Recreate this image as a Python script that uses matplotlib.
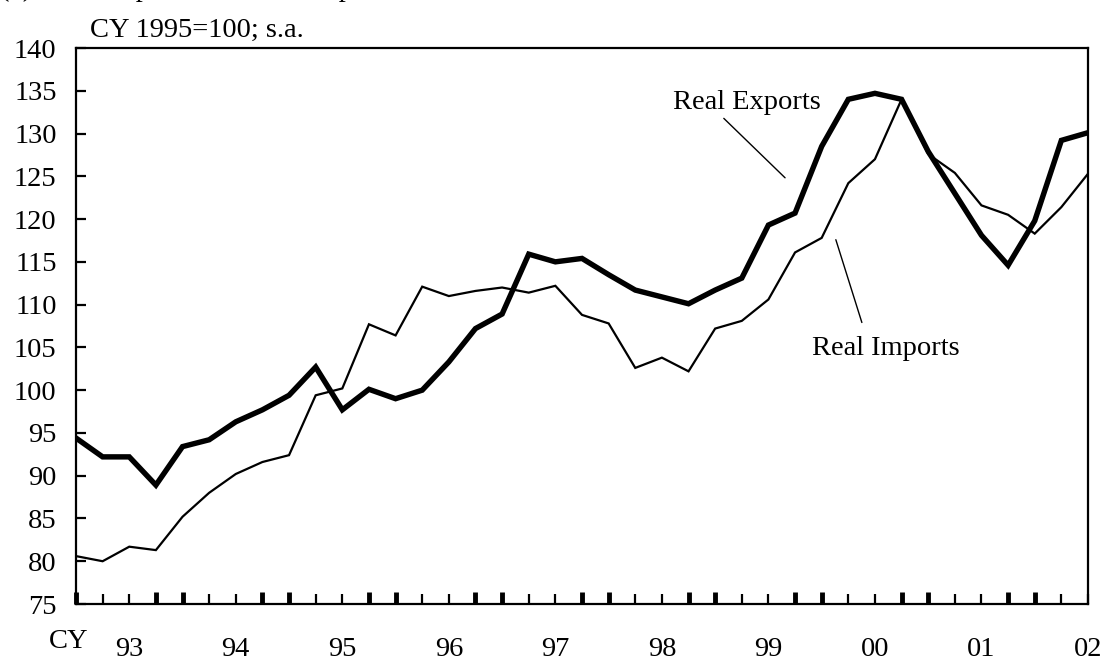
import matplotlib
matplotlib.use("Agg")
import matplotlib.pyplot as plt
import matplotlib.transforms as mtransforms

plt.rcParams['font.family'] = ['Liberation Serif', 'DejaVu Serif']

# Quarterly data, CY1993 Q1 .. CY2002 Q3 (index 0..38)
real_exports = [94.4, 92.2, 92.2, 88.9, 93.4, 94.2, 96.3, 97.7, 99.4, 102.7,
                97.7, 100.1, 99.0, 100.0, 103.3, 107.2, 108.9, 115.9, 115.0, 115.4,
                113.5, 111.7, 110.9, 110.1, 111.7, 113.1, 119.3, 120.7, 128.5, 134.0,
                134.7, 134.0, 127.9, 123.0, 118.1, 114.6, 119.8, 129.2, 130.1]
real_imports = [80.6, 80.0, 81.7, 81.3, 85.2, 88.0, 90.2, 91.6, 92.4, 99.4,
                100.2, 107.7, 106.4, 112.1, 111.0, 111.6, 112.0, 111.4, 112.2, 108.8,
                107.8, 102.6, 103.8, 102.2, 107.2, 108.1, 110.6, 116.1, 117.8, 124.2,
                127.0, 134.0, 127.6, 125.4, 121.6, 120.5, 118.3, 121.4, 125.3]
year_labels = ['93', '94', '95', '96', '97', '98', '99', '00', '01', '02']
y_ticks = list(range(75, 141, 5))

quarters = list(range(len(real_exports)))

fig = plt.figure(figsize=(11.04, 6.6), dpi=100)
ax = fig.add_axes([76 / 1104, 1 - 604 / 660, (1088 - 76) / 1104, (604 - 48) / 660])

ax.plot(quarters, real_imports, color='black', lw=1.6, solid_joinstyle='miter', zorder=3)
ax.plot(quarters, real_exports, color='black', lw=3.9, solid_joinstyle='miter', zorder=4)

ax.set_xlim(0, len(quarters) - 1)
ax.set_ylim(75, 140)

for s in ax.spines.values():
    s.set_linewidth(1.6)

ax.set_yticks(y_ticks)
ax.set_yticklabels([str(v) for v in y_ticks], fontsize=20.5)
ax.tick_params(axis='y', direction='in', length=7, width=1.6, pad=14)

major = [i for i in quarters if i % 4 in (0, 3)]
minor = [i for i in quarters if i % 4 not in (0, 3)]
ax.set_xticks(major)
ax.set_xticklabels([''] * len(major))
ax.set_xticks(minor, minor=True)
ax.tick_params(axis='x', which='major', direction='in', length=9, width=3.5)
ax.tick_params(axis='x', which='minor', direction='in', length=7, width=1.6)

trans = mtransforms.blended_transform_factory(ax.transData, ax.transAxes)
for k, lab in enumerate(year_labels):
    ax.text(4 * k + 2, -0.081, lab, transform=trans, ha='center', va='center',
            fontsize=20.5, clip_on=False)
fig.text(49 / 1104, 1 - 641 / 660, 'CY', ha='left', va='center', fontsize=20.5)

fig.text(90 / 1104, 1 - 37 / 660, 'CY 1995=100; s.a.', ha='left', va='baseline',
         fontsize=20.5)

# Title line, mostly cropped at the top edge in the reference
fig.text(0, 1 + 3.5 / 660, '(2)', ha='left', va='baseline', fontsize=20.5)
fig.text(45 / 1104, 1 + 3.5 / 660, 'Real Exports and Real Imports', ha='left',
         va='baseline', fontsize=20.5)

# Annotations
ax.annotate('', xy=(26.7, 124.6), xytext=(24.25, 132.0),
            arrowprops=dict(arrowstyle='-', color='black', lw=1.0))
ax.text(25.2, 133.6, 'Real Exports', ha='center', va='center', fontsize=20.5)
ax.annotate('', xy=(29.54, 107.6), xytext=(28.5, 117.9),
            arrowprops=dict(arrowstyle='-', color='black', lw=1.0))
ax.text(30.4, 104.9, 'Real Imports', ha='center', va='center', fontsize=20.5)

fig.savefig('out.png', dpi=100)
